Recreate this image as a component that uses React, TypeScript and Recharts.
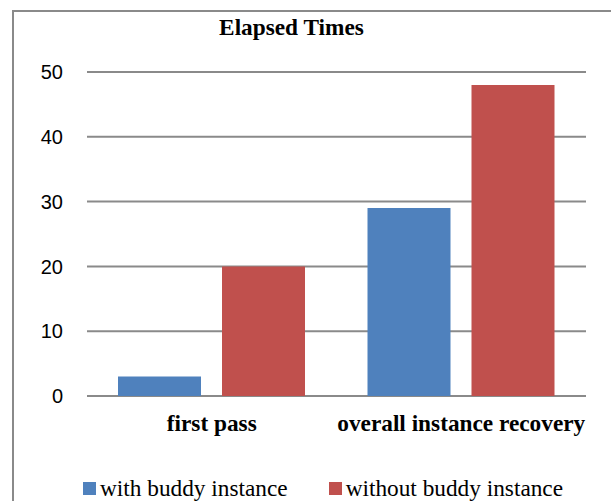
import { Bar, BarChart, CartesianGrid, Legend, XAxis, YAxis } from "recharts";

const categories = ["first pass", "overall instance recovery"];
const withBuddy = [3, 29];
const withoutBuddy = [20, 48];
const yTicks = [0, 10, 20, 30, 40, 50];

const data = categories.map((name, i) => ({
  name,
  withBuddy: withBuddy[i],
  withoutBuddy: withoutBuddy[i],
}));

const serif = '"Liberation Serif", "Times New Roman", serif';

function LegendBox({ payload }: any) {
  return (
    <div style={{ display: "flex", fontFamily: serif, fontSize: 23.3, color: "#000", lineHeight: "26px" }}>
      {(payload || []).map((p: any) => (
        <div key={p.value} style={{ display: "flex", alignItems: "center", marginRight: 41 }}>
          <span style={{ width: 13, height: 13, background: p.color, marginRight: 4, display: "inline-block" }} />
          <span>{p.value}</span>
        </div>
      ))}
    </div>
  );
}

export default function App() {
  return (
    <div style={{ position: "absolute", left: 0, top: 0, width: 611, height: 501, overflow: "hidden", background: "#fff" }}>
      <div
        style={{
          position: "absolute",
          left: 12,
          top: 10,
          width: 640,
          height: 540,
          border: "2px solid #8a8a8a",
        }}
      />
      <div
        style={{
          position: "absolute",
          left: 0,
          top: 14,
          width: 583,
          textAlign: "center",
          fontFamily: serif,
          fontWeight: "bold",
          fontSize: 23.3,
        }}
      >
        Elapsed Times
      </div>
      <BarChart
        width={611}
        height={501}
        data={data}
        margin={{ top: 72, right: 25, bottom: 49, left: 0 }}
        barSize={83}
        barGap={21}
        style={{ position: "absolute", left: 0, top: 0 }}
      >
        <CartesianGrid vertical={false} stroke="#8a8a8a" strokeWidth={2} />
        <XAxis
          dataKey="name"
          axisLine={false}
          tickLine={false}
          tickSize={0}
          tickMargin={18}
          tick={{ fontFamily: serif, fontWeight: "bold", fontSize: 23.3, fill: "#000" }}
        />
        <YAxis
          width={87}
          domain={[0, 50]}
          ticks={yTicks}
          axisLine={false}
          tickLine={false}
          tickSize={0}
          tickMargin={24}
          tick={{ fontFamily: '"Liberation Sans", Arial, sans-serif', fontSize: 20, fill: "#000" }}
        />
        <Legend
          content={<LegendBox />}
          verticalAlign="bottom"
          wrapperStyle={{ position: "absolute", left: 83, top: 475, width: 560, bottom: "auto" }}
        />
        <Bar dataKey="withBuddy" name="with buddy instance" fill="#4F81BD" isAnimationActive={false} />
        <Bar dataKey="withoutBuddy" name="without buddy instance" fill="#C0504D" isAnimationActive={false} />
      </BarChart>
    </div>
  );
}
